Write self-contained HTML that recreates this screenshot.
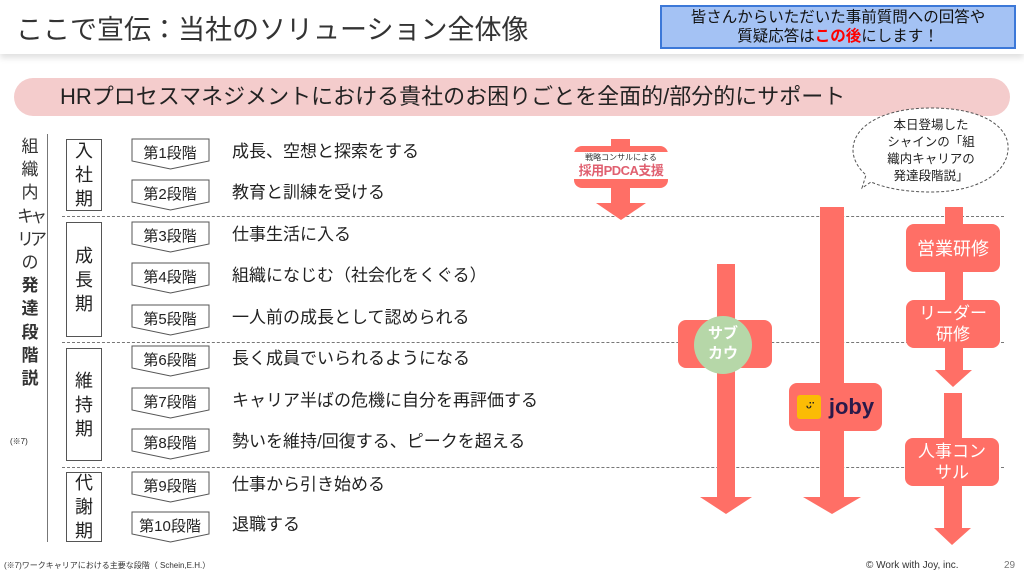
<!DOCTYPE html>
<html><head><meta charset="utf-8"><style>
*{margin:0;padding:0;box-sizing:border-box}
body{width:1024px;height:576px;overflow:hidden;background:#fff;position:relative;font-family:"Liberation Sans","Noto Sans CJK JP",sans-serif;color:#222}
.a{position:absolute}
.hdr{left:0;top:0;width:1024px;height:54px;background:#fff;box-shadow:0 4px 6px rgba(0,0,0,.12)}
.desc{position:absolute;left:232px;font-size:17px;line-height:20px}
.per{position:absolute;left:66px;width:36px;border:1px solid #555;font-size:18px;line-height:24px;text-align:center;display:flex;flex-direction:column;justify-content:center}
.dash{position:absolute;left:62px;width:942px;border-top:1px dashed #777}
.box{position:absolute;background:#ff6f66;border-radius:8px;color:#fff;text-align:center;display:flex;align-items:center;justify-content:center}
</style></head><body>
<div class="a hdr"></div>
<div class="a" style="left:16px;top:8px;font-size:27px;color:#333">ここで宣伝：当社のソリューション全体像</div>
<div class="a" style="left:660px;top:5px;width:356px;height:44px;background:#a4c2f4;border:2px solid #3c78d8;font-size:15.5px;line-height:19px;text-align:center;color:#111;padding-top:1px">皆さんからいただいた事前質問への回答や<br>質疑応答は<b style="color:#f00">この後</b>にします！</div>
<div class="a" style="left:14px;top:78px;width:996px;height:38px;background:#f4cccc;border-radius:19px;font-size:22px;line-height:38px;padding-left:46px;color:#222">HRプロセスマネジメントにおける貴社のお困りごとを全面的/部分的にサポート</div>

<div class="a" style="left:14px;top:135px;width:32px;font-size:17px;line-height:23.2px;text-align:center;color:#333;white-space:nowrap">組<br>織<br>内<br><span style="letter-spacing:-4px">キャ</span><br><span style="letter-spacing:-4px">リア</span><br>の<br><b>発<br>達<br>段<br>階<br>説</b></div>
<div class="a" style="left:47px;top:134px;width:1px;height:408px;background:#777"></div>
<div class="a" style="left:10px;top:436px;font-size:8px">(※7)</div>

<div class="per" style="top:139px;height:72px">入<br>社<br>期</div>
<div class="per" style="top:222px;height:115px">成<br>長<br>期</div>
<div class="per" style="top:348px;height:113px">維<br>持<br>期</div>
<div class="per" style="top:472px;height:70px">代<br>謝<br>期</div>
<div class="dash" style="top:216px"></div>
<div class="dash" style="top:342px"></div>
<div class="dash" style="top:467px"></div>

<svg class="a" style="left:0;top:0" width="1024" height="576">
<g fill="#fff" stroke="#555" stroke-width="1">
<path d="M132,139H209V161L170.5,169L132,161Z"/>
<path d="M132,180H209V202L170.5,210L132,202Z"/>
<path d="M132,222H209V244L170.5,252L132,244Z"/>
<path d="M132,263H209V285L170.5,293L132,285Z"/>
<path d="M132,305H209V327L170.5,335L132,327Z"/>
<path d="M132,346H209V368L170.5,376L132,368Z"/>
<path d="M132,388H209V410L170.5,418L132,410Z"/>
<path d="M132,429H209V451L170.5,459L132,451Z"/>
<path d="M132,472H209V494L170.5,502L132,494Z"/>
<path d="M132,512H209V534L170.5,542L132,534Z"/>
</g>
<g font-size="15" fill="#222" text-anchor="middle" font-family="Liberation Sans,Noto Sans CJK JP,sans-serif">
<text x="170" y="158">第1段階</text><text x="170" y="199">第2段階</text><text x="170" y="241">第3段階</text><text x="170" y="282">第4段階</text><text x="170" y="324">第5段階</text><text x="170" y="365">第6段階</text><text x="170" y="407">第7段階</text><text x="170" y="448">第8段階</text><text x="170" y="491">第9段階</text><text x="170" y="531">第10段階</text>
</g>
<g fill="#ff6f66">
<rect x="611" y="139" width="19" height="70"/><path d="M596,203H646L621,220Z"/>
<rect x="717" y="264" width="18" height="236"/><path d="M700,497H752L726,514Z"/>
<rect x="820" y="207" width="24" height="292"/><path d="M803,497H861L832,514Z"/>
<rect x="945" y="207" width="18" height="165"/><path d="M935,370H972L953,387Z"/>
<rect x="944" y="393" width="18" height="135"/><path d="M934,528H971L952,545Z"/>
<rect x="574" y="146" width="94" height="42" rx="8"/>
<rect x="678" y="320" width="94" height="48" rx="8"/>
</g>
<rect x="574" y="152" width="94" height="27" fill="#fff"/>
<path d="M931,108 C985,108 1010,128 1008,150 C1006,175 975,192 931,192 C905,192 885,188 871,182 L862,188 L866,175 C857,167 853,158 853,150 C853,125 885,108 931,108Z" fill="#fff" stroke="#555" stroke-dasharray="3,2"/>
<circle cx="723" cy="345" r="29" fill="#b6d7a8"/>
</svg>

<div class="desc" style="top:142px">成長、空想と探索をする</div>
<div class="desc" style="top:183px">教育と訓練を受ける</div>
<div class="desc" style="top:225px">仕事生活に入る</div>
<div class="desc" style="top:266px">組織になじむ（社会化をくぐる）</div>
<div class="desc" style="top:308px">一人前の成長として認められる</div>
<div class="desc" style="top:349px">長く成員でいられるようになる</div>
<div class="desc" style="top:391px">キャリア半ばの危機に自分を再評価する</div>
<div class="desc" style="top:432px">勢いを維持/回復する、ピークを超える</div>
<div class="desc" style="top:475px">仕事から引き始める</div>
<div class="desc" style="top:515px">退職する</div>

<div class="a" style="left:574px;top:153px;width:94px;text-align:center;font-size:8px;line-height:10px;color:#333;white-space:nowrap">戦略コンサルによる</div>
<div class="a" style="left:570px;top:163px;width:102px;text-align:center;font-size:13px;line-height:16px;font-weight:bold;color:#e06070;white-space:nowrap;letter-spacing:-0.5px">採用PDCA支援</div>
<div class="a" style="left:694px;top:324px;width:58px;text-align:center;color:#fff;font-size:15px;font-weight:bold;line-height:20px">サブ<br>カウ</div>
<div class="box" style="left:789px;top:383px;width:93px;height:48px;font-size:22px;font-weight:bold;color:#2a1a4a"><span style="display:inline-block;width:24px;height:24px;background:#fbbc05;border-radius:3px;margin-right:8px;font-size:14px;line-height:24px;color:#222">ᵕ̈</span>joby</div>
<div class="box" style="left:906px;top:224px;width:94px;height:48px;font-size:18px">営業研修</div>
<div class="box" style="left:906px;top:300px;width:94px;height:48px;font-size:17px;line-height:21px">リーダー<br>研修</div>
<div class="box" style="left:905px;top:438px;width:94px;height:48px;font-size:17px;line-height:21px">人事コン<br>サル</div>
<div class="a" style="left:868px;top:117px;width:126px;text-align:center;font-size:12.5px;line-height:17px;color:#222">本日登場した<br>シャインの「組<br>織内キャリアの<br>発達段階説」</div>

<div class="a" style="left:4px;top:560px;font-size:8px;color:#333">(※7)ワークキャリアにおける主要な段階（ Schein,E.H.）</div>
<div class="a" style="left:866px;top:560px;font-size:10px;color:#333">© Work with Joy, inc.</div>
<div class="a" style="left:1004px;top:560px;font-size:10px;color:#777">29</div>
</body></html>
